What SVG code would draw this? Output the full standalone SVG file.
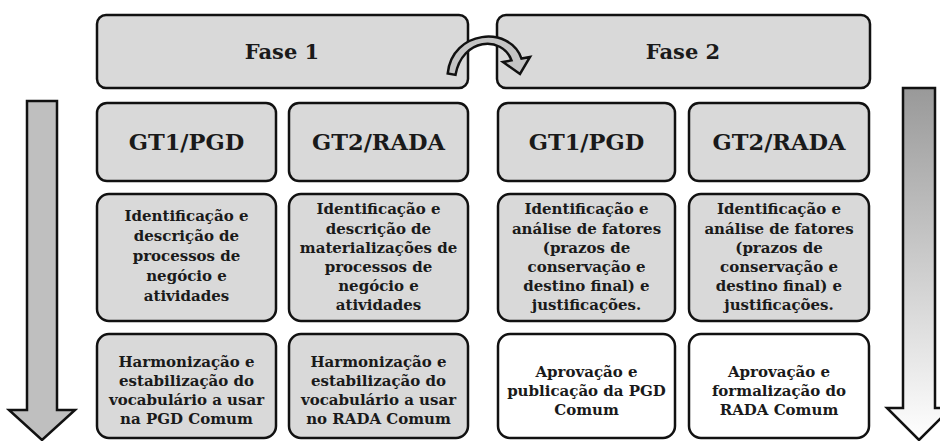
<svg xmlns="http://www.w3.org/2000/svg" width="940" height="441" viewBox="0 0 940 441">
<style>
.box{fill:#d9d9d9;stroke:#111;stroke-width:2.5}
.wbox{fill:#ffffff;stroke:#111;stroke-width:2.5}
.t{font-family:"DejaVu Serif","Liberation Serif",serif;font-weight:bold;fill:#1a1a1a;text-anchor:middle;dominant-baseline:central}
.h{font-size:21px}
.g{font-size:22.5px}
.s{font-size:15px}
.arr{stroke:#111;stroke-width:2.5;stroke-linejoin:miter}
</style>
<defs>
<linearGradient id="grad" x1="0" y1="0" x2="0" y2="1">
<stop offset="0" stop-color="#999999"/>
<stop offset="1" stop-color="#ffffff"/>
</linearGradient>
</defs>
<rect width="940" height="441" fill="#ffffff"/>

<g id="fase1"><rect class="box" x="97" y="15" width="371" height="73" rx="9"/><text class="t h" x="282" y="51">Fase 1</text></g>
<g id="fase2"><rect class="box" x="497" y="15" width="373" height="73" rx="9"/><text class="t h" x="683" y="51">Fase 2</text></g>

<g id="f1-gt1"><rect class="box" x="97" y="103" width="179" height="78" rx="10"/><text class="t g" x="186.5" y="142">GT1/PGD</text></g>
<g id="f1-gt2"><rect class="box" x="289" y="103" width="179" height="78" rx="10"/><text class="t g" x="378.5" y="142">GT2/RADA</text></g>
<g id="f2-gt1"><rect class="box" x="498" y="103" width="177" height="78" rx="10"/><text class="t g" x="586.5" y="142">GT1/PGD</text></g>
<g id="f2-gt2"><rect class="box" x="689" y="103" width="180" height="78" rx="10"/><text class="t g" x="779" y="142">GT2/RADA</text></g>

<g id="f1-gt1-ident"><rect class="box" x="97" y="194" width="179" height="127" rx="12"/>
<text class="t s" x="186.5" y="216">Identificação e</text>
<text class="t s" x="186.5" y="236">descrição de</text>
<text class="t s" x="186.5" y="256">processos de</text>
<text class="t s" x="186.5" y="276">negócio e</text>
<text class="t s" x="186.5" y="296">atividades</text></g>

<g id="f1-gt2-ident"><rect class="box" x="289" y="194" width="179" height="127" rx="12"/>
<text class="t s" x="378.5" y="209">Identificação e</text>
<text class="t s" x="378.5" y="228.5">descrição de</text>
<text class="t s" x="378.5" y="248">materializações de</text>
<text class="t s" x="378.5" y="267">processos de</text>
<text class="t s" x="378.5" y="286">negócio e</text>
<text class="t s" x="378.5" y="305">atividades</text></g>

<g id="f2-gt1-ident"><rect class="box" x="498" y="194" width="177" height="127" rx="12"/>
<text class="t s" x="586.5" y="209">Identificação e</text>
<text class="t s" x="586.5" y="228.5">análise de fatores</text>
<text class="t s" x="586.5" y="248">(prazos de</text>
<text class="t s" x="586.5" y="267">conservação e</text>
<text class="t s" x="586.5" y="286">destino final) e</text>
<text class="t s" x="586.5" y="305">justificações.</text></g>

<g id="f2-gt2-ident"><rect class="box" x="689" y="194" width="180" height="127" rx="12"/>
<text class="t s" x="779" y="209">Identificação e</text>
<text class="t s" x="779" y="228.5">análise de fatores</text>
<text class="t s" x="779" y="248">(prazos de</text>
<text class="t s" x="779" y="267">conservação e</text>
<text class="t s" x="779" y="286">destino final) e</text>
<text class="t s" x="779" y="305">justificações.</text></g>

<g id="f1-gt1-harm"><rect class="box" x="97" y="334" width="179" height="104" rx="12"/>
<text class="t s" x="186.5" y="362">Harmonização e</text>
<text class="t s" x="186.5" y="381">estabilização do</text>
<text class="t s" x="186.5" y="400">vocabulário a usar</text>
<text class="t s" x="186.5" y="419">na PGD Comum</text></g>

<g id="f1-gt2-harm"><rect class="box" x="289" y="334" width="179" height="104" rx="12"/>
<text class="t s" x="378.5" y="362">Harmonização e</text>
<text class="t s" x="378.5" y="381">estabilização do</text>
<text class="t s" x="378.5" y="400">vocabulário a usar</text>
<text class="t s" x="378.5" y="419">no RADA Comum</text></g>

<g id="f2-gt1-aprov"><rect class="wbox" x="498" y="334" width="177" height="104" rx="12"/>
<text class="t s" x="586.5" y="372">Aprovação e</text>
<text class="t s" x="586.5" y="391">publicação da PGD</text>
<text class="t s" x="586.5" y="410">Comum</text></g>

<g id="f2-gt2-aprov"><rect class="wbox" x="689" y="334" width="180" height="104" rx="12"/>
<text class="t s" x="779" y="372">Aprovação e</text>
<text class="t s" x="779" y="391">formalização do</text>
<text class="t s" x="779" y="410">RADA Comum</text></g>

<g id="connectors">
<path class="arr" fill="#bfbfbf" d="M27,101 H57 V410 H75 L42,440 L9,410 H27 Z"/>
<path class="arr" fill="url(#grad)" d="M903,88 H935 V408 H951 L919,440 L887,408 H903 Z"/>
<path class="arr" fill="#c4c4c4" stroke-width="2" d="M447.7,73.5 C452,30 510,25 521.5,58.6 L530,57 L520,74 L503,62 L511.5,60.4 C502,35 462,38 455.5,74.9 Z"/>
</g>
</svg>
